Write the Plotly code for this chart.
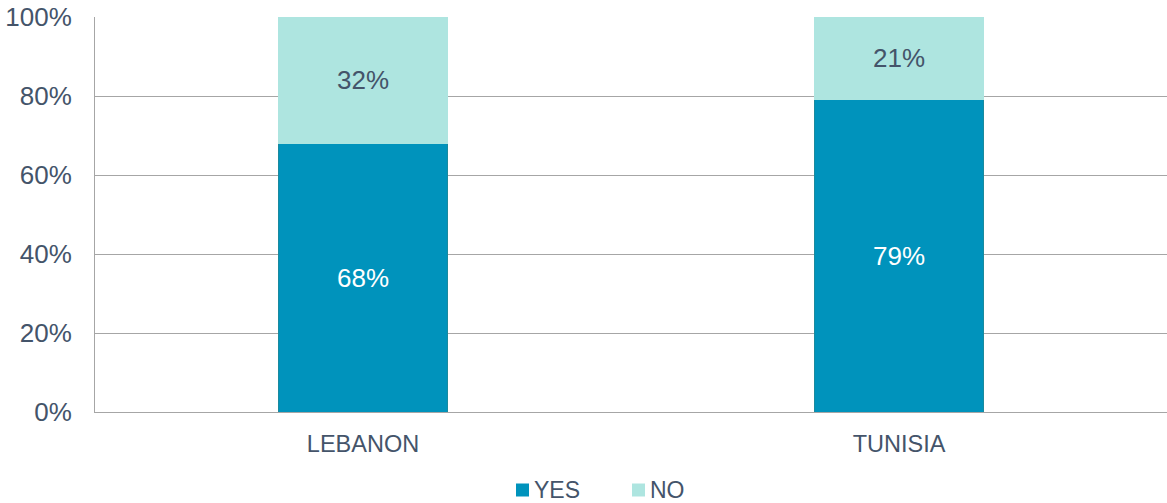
import plotly.graph_objects as go

# Survey answers by country (share of respondents)
countries = ["LEBANON", "TUNISIA"]
yes_share = [0.68, 0.79]
no_share = [0.32, 0.21]
y_ticks = [0, 0.2, 0.4, 0.6, 0.8, 1.0]
series_names = ["YES", "NO"]
series_colors = ["#0093BC", "#AEE5E0"]

TEXT = "#44546A"
FONT = "Liberation Sans, Arial, sans-serif"

W, H = 1167, 503
M_L, M_R, M_T, M_B = 95, 0, 17, 91
PLOT_W = W - M_L - M_R
PLOT_H = H - M_T - M_B

fig = go.Figure()
fig.add_trace(go.Bar(
    name=series_names[0], x=countries, y=yes_share,
    marker=dict(color=series_colors[0], line=dict(color="#1A8A9E", width=1)),
    text=[f"{v:.0%}" for v in yes_share], texttemplate="%{text}",
    textposition="inside", insidetextanchor="middle",
    textfont=dict(color="white", size=26, family=FONT),
))
fig.add_trace(go.Bar(
    name=series_names[1], x=countries, y=no_share,
    marker=dict(color=series_colors[1], line=dict(color=series_colors[1], width=1)),
    text=[f"{v:.0%}" for v in no_share], texttemplate="%{text}",
    textposition="inside", insidetextanchor="middle",
    textfont=dict(color=TEXT, size=26, family=FONT),
))


def px_x(x):
    return (x - M_L) / PLOT_W


def px_y(y):
    return (H - M_B - y) / PLOT_H


# Legend below the chart: small colour square followed closely by its label
legend_left = [516, 632]
sq = 13
ly = 490
for name, color, left in zip(series_names, series_colors, legend_left):
    fig.add_shape(
        type="rect", xref="paper", yref="paper",
        x0=px_x(left), x1=px_x(left + sq),
        y0=px_y(ly + sq / 2), y1=px_y(ly - sq / 2),
        fillcolor=color, line=dict(width=0),
    )
    fig.add_annotation(
        xref="paper", yref="paper", x=px_x(left + sq + 3), y=px_y(ly),
        xanchor="left", yanchor="middle", showarrow=False,
        text=name, font=dict(size=23, color=TEXT, family=FONT),
    )

fig.update_layout(
    barmode="stack",
    bargap=0.685,
    width=W, height=H,
    margin=dict(l=M_L, r=M_R, t=M_T, b=M_B),
    paper_bgcolor="white", plot_bgcolor="white",
    font=dict(family=FONT, color=TEXT),
    showlegend=False,
)
fig.update_yaxes(
    range=[0, 1], tickvals=y_ticks, tickformat=".0%",
    showgrid=True, gridcolor="#A6A6A6", gridwidth=1,
    showline=True, linecolor="#A6A6A6", linewidth=1,
    zeroline=False, ticks="", ticklabelstandoff=17,
    tickfont=dict(size=26, color=TEXT),
)
fig.update_xaxes(
    showgrid=False, showline=True, linecolor="#A6A6A6", linewidth=1,
    ticks="", ticklabelstandoff=11,
    tickfont=dict(size=23.5, color=TEXT),
)

fig.write_html("out.html")
